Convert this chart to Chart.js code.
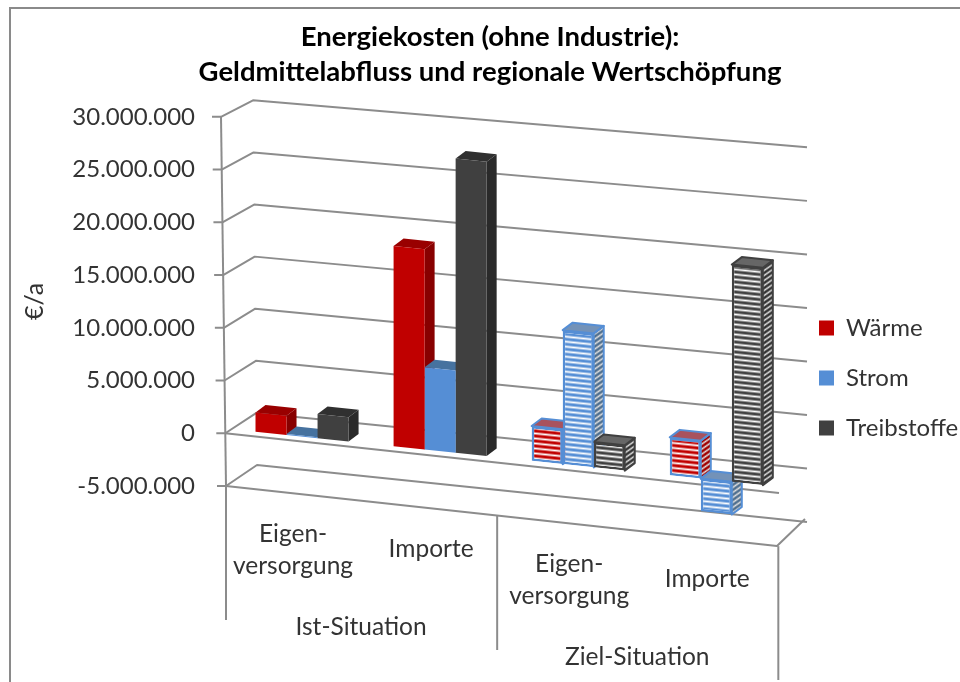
<!DOCTYPE html>
<html><head><meta charset="utf-8">
<style>html,body{margin:0;padding:0;background:#fff}canvas{display:block}</style>
<script src="https://cdn.jsdelivr.net/npm/chart.js@4/dist/chart.umd.min.js"></script>
</head><body>
<canvas id="c" width="960" height="682"></canvas>
<script>
const categories = [['Eigen-','versorgung'],'Importe',['Eigen-','versorgung'],'Importe'];
const groups = ['Ist-Situation','Ziel-Situation'];
const titleLines = ['Energiekosten (ohne Industrie):','Geldmittelabfluss und regionale Wertschöpfung'];
const seriesNames = ['Wärme','Strom','Treibstoffe'];
const waerme = [1840000,19000000,3300000,3600000];
const strom = [100000,7800000,12700000,-3100000];
const treibstoffe = [2300000,27900000,2400000,20600000];
const yMin = -5000000, yMax = 30000000, yStep = 5000000;

const FONT = 'Lato, Carlito, sans-serif';
const GRID = '#8c8c8c';
const SHEAR = 0.105, PIVOT = 269, DX = 10, DY = -7.5;
const skew = (x,y) => y + SHEAR*(x-PIVOT);

const solid = ['#C00000','#558ED5','#404040'];
const sideCol = ['#880000','#3D6A9F','#2A2A2A'];
const topCol = ['#990000','#46729F','#303030'];
const frameCol = ['#558ED5','#558ED5','#404040'];
const topPat = ['#A8525E','#7392B8','#666666'];
const sidePatFg = ['#A00000','#50708F','#333333'];

function stripes(fg, bg, diag){
  const c = document.createElement('canvas');
  c.width = 5; c.height = 5;
  const g = c.getContext('2d');
  g.fillStyle = bg; g.fillRect(0,0,5,5);
  g.fillStyle = fg;
  g.globalAlpha = 0.55; g.fillRect(0,1,5,1); g.fillRect(0,4,5,1);
  g.globalAlpha = 1; g.fillRect(0,2,5,2);
  const p = g.createPattern(c,'repeat');
  if (diag) p.setTransform(new DOMMatrix().skewY(-35));
  return p;
}
const frontPat = solid.map(c => stripes(c,'#ffffff',false));
const sidePat = sidePatFg.map(c => stripes(c,'#dddddd',true));

const isPlanned = i => i >= 2;
function makeDataset(name, values, s){
  return {
    label: name, data: values,
    backgroundColor: ctx => (ctx.dataIndex !== undefined && isPlanned(ctx.dataIndex)) ? frontPat[s] : solid[s],
    borderColor: ctx => (ctx.dataIndex !== undefined && isPlanned(ctx.dataIndex)) ? frameCol[s] : solid[s],
    borderWidth: ctx => (ctx.dataIndex !== undefined && isPlanned(ctx.dataIndex)) ? 2.5 : 0,
    borderSkipped: false,
    categoryPercentage: 0.674, barPercentage: 1
  };
}

const scene = {
  id: 'scene',
  afterLayout(chart){
    const L = chart.legend, w = L.width;
    L.left = 793; L.right = 991 + w;
    L.top = 190; L.bottom = 566;
  },
  beforeDraw(chart){
    const c = chart.ctx;
    c.save();
    c.fillStyle = '#fff'; c.fillRect(0,0,960,682);
    c.strokeStyle = '#8a8a8a'; c.lineWidth = 2;
    c.beginPath(); c.moveTo(10,682); c.lineTo(10,8); c.lineTo(960,8); c.stroke();
    c.restore();
  },
  beforeDatasetsDraw(chart){
    const c = chart.ctx, ys = chart.scales.y, xs = chart.scales.x;
    const top = ys.getPixelForValue(yMax), bot = ys.getPixelForValue(yMin);
    const frac = p => (p-top)/(bot-top);
    const frontX = p => 221 + 5*frac(p);
    const backLX = p => 253 + 4*frac(p);
    const backLY = p => p - 16.5 - 4.5*frac(p);
    const backRY = p => p + 30.5 + 5.5*frac(p);
    const RIGHT = 807;
    c.save();
    c.strokeStyle = GRID; c.lineWidth = 2; c.lineCap = 'butt'; c.lineJoin = 'round';
    c.beginPath(); c.moveTo(frontX(top),top); c.lineTo(frontX(bot),bot); c.stroke();
    ys.ticks.forEach(t => {
      const p = ys.getPixelForValue(t.value), fx = frontX(p);
      c.beginPath();
      c.moveTo(fx-9,p); c.lineTo(fx,p);
      c.lineTo(backLX(p),backLY(p)); c.lineTo(RIGHT,backRY(p));
      c.stroke();
      if (t.value === 0 || t.value === yMin){
        const fr = t.value === 0 ? 779 : 777;
        const fy = t.value === 0 ? 493 : 546;
        c.beginPath(); c.moveTo(fx,p); c.lineTo(fr,fy);
        if (t.value === yMin) c.lineTo(RIGHT-2,backRY(p)-3);
        c.stroke();
      }
    });
    const floorY = x => bot + 0.1089*(x-226);
    const mid = (xs.getPixelForTick(1)+xs.getPixelForTick(2))/2 - 12;
    [[xs.left-7,620],[mid,650],[xs.right-7,680]].forEach(([x,end]) => {
      c.beginPath(); c.moveTo(x,floorY(x)); c.lineTo(x,end); c.stroke();
    });
    chart.data.datasets.forEach((d,s) => {
      chart.getDatasetMeta(s).data.forEach((b,i) => {
        const l = b.x-b.width/2, r = b.x+b.width/2;
        const yt = Math.min(b.y,b.base), yb = Math.max(b.y,b.base);
        const pl = isPlanned(i);
        c.lineWidth = pl ? 2 : 0;
        c.strokeStyle = frameCol[s];
        c.fillStyle = pl ? sidePat[s] : sideCol[s];
        c.beginPath();
        c.moveTo(r,skew(r,yt)); c.lineTo(r+DX,skew(r,yt)+DY);
        c.lineTo(r+DX,skew(r,yb)+DY); c.lineTo(r,skew(r,yb)); c.closePath();
        c.fill(); if (pl) c.stroke();
        c.fillStyle = pl ? topPat[s] : topCol[s];
        c.beginPath();
        c.moveTo(l,skew(l,yt)); c.lineTo(l+DX,skew(l,yt)+DY);
        c.lineTo(r+DX,skew(r,yt)+DY); c.lineTo(r,skew(r,yt)); c.closePath();
        c.fill(); if (pl) c.stroke();
      });
    });
    c.restore();
    c.save();
    c.transform(1,SHEAR,0,1,0,-SHEAR*PIVOT);
  },
  afterDatasetsDraw(chart){
    const c = chart.ctx, ys = chart.scales.y, xs = chart.scales.x;
    c.restore();
    const bot = ys.getPixelForValue(yMin);
    const floorY = x => bot + 0.1089*(x-226);
    c.save();
    c.fillStyle = '#333333'; c.font = '24.5px '+FONT;
    c.textAlign = 'center'; c.textBaseline = 'middle';
    categories.forEach((lab,i) => {
      const x = xs.getPixelForTick(i) - 9;
      const lines = Array.isArray(lab) ? lab : [lab];
      lines.forEach((t,k) => c.fillText(t, x, floorY(x)+41+k*32));
    });
    groups.forEach((g,i) => {
      const x = (xs.getPixelForTick(2*i)+xs.getPixelForTick(2*i+1))/2 - 10;
      c.fillText(g, x, floorY(x)+126);
    });
    c.restore();
  }
};

new Chart(document.getElementById('c'), {
  type: 'bar',
  plugins: [scene],
  data: {
    labels: categories,
    datasets: [makeDataset(seriesNames[0],waerme,0), makeDataset(seriesNames[1],strom,1), makeDataset(seriesNames[2],treibstoffe,2)]
  },
  options: {
    responsive: false, animation: false, devicePixelRatio: 1,
    layout: { padding: { left: 19.5, right: -0.5, top: 0, bottom: 0 } },
    plugins: {
      tooltip: { enabled: false },
      title: {
        display: true, text: titleLines, color: '#000',
        font: { family: FONT, size: 27.5, weight: 'bold', lineHeight: 1.27 },
        padding: { top: 20, bottom: 27 }
      },
      legend: {
        position: 'right',
        labels: {
          boxWidth: 15, boxHeight: 15, padding: 26, color: '#333333',
          font: { family: FONT, size: 24 }
        }
      }
    },
    scales: {
      x: {
        grid: { display: false }, border: { display: false },
        ticks: { display: false },
        afterFit(s){ s.height = 682 - 486; }
      },
      y: {
        min: yMin, max: yMax,
        grid: { display: false, drawTicks: false }, border: { display: false },
        ticks: {
          stepSize: yStep, padding: 38, color: '#333333',
          font: { family: FONT, size: 24 },
          callback: v => String(v).replace(/\B(?=(\d{3})+(?!\d))/g,'.')
        },
        title: {
          display: true, text: '€/a', color: '#333333',
          font: { family: FONT, size: 25 }, padding: { top: 0.5, bottom: 0 }
        },
        afterFit(s){ s.width = 213.5; }
      }
    }
  }
});
</script>
</body></html>
